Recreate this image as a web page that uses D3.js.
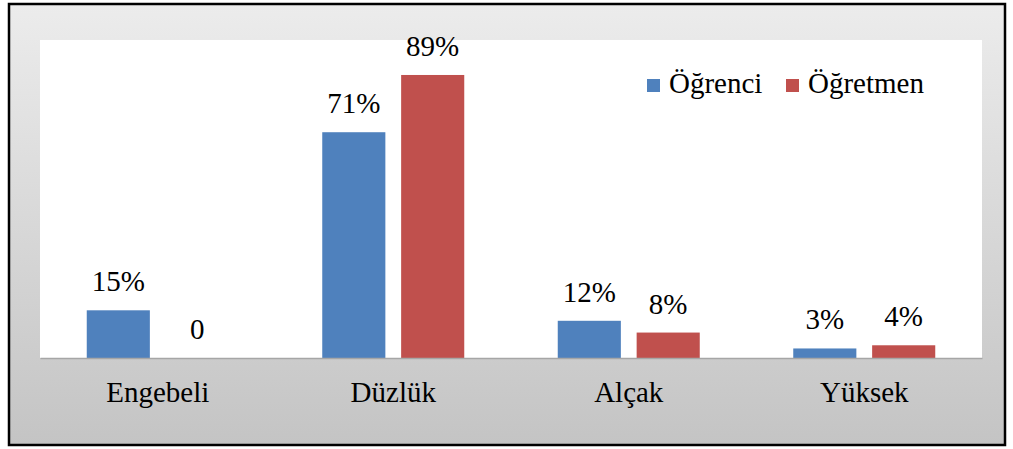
<!DOCTYPE html>
<html><head><meta charset="utf-8">
<script src="https://cdn.jsdelivr.net/npm/d3@7"></script>
</head><body style="margin:0">
<script>
const categories = ["Engebeli", "Düzlük", "Alçak", "Yüksek"];
const seriesNames = ["Öğrenci", "Öğretmen"];
const ogrenci = [15, 71, 11.7, 3];
const ogretmen = [0, 89, 8, 4];
const ogrenciLabels = ["15%", "71%", "12%", "3%"];
const ogretmenLabels = ["0", "89%", "8%", "4%"];
const colors = ["#4f81bd", "#c0504d"];

const W = 1013, H = 449;
const svg = d3.select("body").append("svg").attr("width", W).attr("height", H)
  .style("display","block").style("font-family", '"Liberation Serif"');
const defs = svg.append("defs");
const g = defs.append("linearGradient").attr("id","bg").attr("x1",0).attr("y1",0).attr("x2",0).attr("y2",1);
g.append("stop").attr("offset","0%").attr("stop-color","#ececec");
g.append("stop").attr("offset","100%").attr("stop-color","#c4c4c4");

function txt(parent, x, y, s, anchor) {
  return parent.append("text")
    .attr("x", x).attr("y", y)
    .attr("text-anchor", anchor || "middle")
    .style("font-family", '"Liberation Serif"')
    .style("font-size", "29px")
    .attr("fill", "#000")
    .text(s);
}

svg.append("rect").attr("x",9).attr("y",4).attr("width",996).attr("height",441)
  .attr("fill","url(#bg)").attr("stroke","#000").attr("stroke-width",2.5);

const plot = {x0:40, x1:982, y0:40, y1:358};
svg.append("rect").attr("x",plot.x0).attr("y",plot.y0).attr("width",plot.x1-plot.x0).attr("height",plot.y1-plot.y0).attr("fill","#fff");

const x = d3.scaleBand().domain(categories).range([plot.x0, plot.x1]).paddingInner(0).paddingOuter(0);
const x1 = d3.scaleBand().domain(seriesNames).range([0, 142]).paddingInner(0.2);
const y = d3.scaleLinear().domain([0,100]).range([plot.y1, plot.y0]);

const data = [ogrenci, ogretmen];
const labels = [ogrenciLabels, ogretmenLabels];

seriesNames.forEach((s, si) => {
  categories.forEach((c, ci) => {
    const bx = x(c) + (x.bandwidth()-142)/2 + x1(s);
    const v = data[si][ci];
    if (v > 0) {
      svg.append("rect").attr("x", bx).attr("y", y(v)).attr("width", x1.bandwidth()).attr("height", y(0)-y(v))
        .attr("fill", colors[si]);
    }
    txt(svg, bx + x1.bandwidth()/2, (v>0 ? y(v) : y(0)) - 19, labels[si][ci]);
  });
});

const axis = svg.append("g").attr("transform", `translate(0,${plot.y1})`)
  .call(d3.axisBottom(x).tickSize(0).tickPadding(0));
axis.attr("font-family", null).attr("font-size", null);
axis.select(".domain").attr("stroke","#a6a6a6").attr("stroke-width",1.5);
axis.selectAll(".tick text").remove();
axis.selectAll(".tick").each(function(d) {
  txt(d3.select(this), 0, 44, d);
});

// legend
const leg = svg.append("g");
const legX = [647, 786];
seriesNames.forEach((s, i) => {
  leg.append("rect").attr("x", legX[i]).attr("y", 79).attr("width", 13).attr("height", 13).attr("fill", colors[i]);
  txt(leg, legX[i] + 22, 93, s, "start");
});
</script>
</body></html>
